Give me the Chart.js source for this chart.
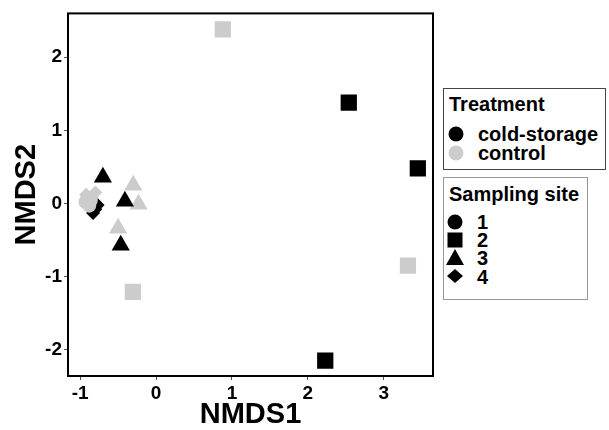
<!DOCTYPE html>
<html>
<head>
<meta charset="utf-8">
<script src="https://cdn.jsdelivr.net/npm/chart.js@4"></script>
<style>
  html,body{margin:0;padding:0;background:#fff;}
  #wrap{position:relative;width:609px;height:430px;overflow:hidden;font-family:"Liberation Sans",Arial,sans-serif;}
  canvas{position:absolute;left:0;top:0;}
  .leg{position:absolute;background:#fff;box-sizing:border-box;}
  .ttl{position:absolute;font-weight:bold;font-size:20px;color:#000;white-space:nowrap;line-height:20px;}
  .item{position:absolute;font-weight:bold;font-size:20px;color:#000;white-space:nowrap;line-height:20px;}
  svg{position:absolute;}
</style>
</head>
<body>
<div id="wrap">
  <canvas id="c" width="609" height="430"></canvas>
  <div class="leg" style="left:443px;top:88px;width:163px;height:82px;border:1px solid #444;">
    <div class="ttl" style="left:5px;top:5px;">Treatment</div>
    <svg style="left:4px;top:37px" width="16" height="16"><circle cx="8" cy="8" r="7.5" fill="#000"/></svg>
    <div class="item" style="left:34px;top:35px;">cold-storage</div>
    <svg style="left:4px;top:56px" width="16" height="16"><circle cx="8" cy="8" r="7.5" fill="#cccccc"/></svg>
    <div class="item" style="left:34px;top:54px;">control</div>
  </div>
  <div class="leg" style="left:443px;top:177px;width:145px;height:123px;border:1px solid #999;">
    <div class="ttl" style="left:5px;top:6px;">Sampling site</div>
    <svg style="left:3px;top:36px" width="16" height="16"><circle cx="8" cy="8" r="7.5" fill="#000"/></svg>
    <div class="item" style="left:33px;top:34px;">1</div>
    <svg style="left:3px;top:54px" width="16" height="16"><rect x="0.5" y="0.5" width="15" height="15" fill="#000"/></svg>
    <div class="item" style="left:33px;top:52px;">2</div>
    <svg style="left:2px;top:71px" width="18" height="16"><polygon points="9,0 18,16 0,16" fill="#000"/></svg>
    <div class="item" style="left:33px;top:70px;">3</div>
    <svg style="left:3px;top:91px" width="16" height="14"><polygon points="8,0 16,7 8,14 0,7" fill="#000"/></svg>
    <div class="item" style="left:33px;top:89px;">4</div>
  </div>
</div>
<script>
// ---- data ----
const treatments = ['cold-storage', 'control'];
const sites = ['1', '2', '3', '4'];
const xTickValues = [-1, 0, 1, 2, 3];
const yTickValues = [-2, -1, 0, 1, 2];

// cold-storage samples
const coldSite1X = [-0.90, -0.87, -0.89];
const coldSite1Y = [0.04, 0.00, 0.07];
const coldSite2X = [2.54, 3.45, 2.23];
const coldSite2Y = [1.38, 0.48, -2.15];
const coldSite3X = [-0.70, -0.41, -0.465];
const coldSite3Y = [0.36, 0.03, -0.57];
const coldSite4X = [-0.77, -0.80, -0.83];
const coldSite4Y = [-0.02, -0.08, -0.13];

// control samples
const ctrlSite1X = [-0.93, -0.86, -0.88];
const ctrlSite1Y = [0.02, 0.04, -0.03];
const ctrlSite2X = [0.88, 3.32, -0.305];
const ctrlSite2Y = [2.38, -0.85, -1.21];
const ctrlSite3X = [-0.30, -0.23, -0.50];
const ctrlSite3Y = [0.25, -0.01, -0.34];
const ctrlSite4X = [-0.92, -0.80, -0.85];
const ctrlSite4Y = [0.12, 0.15, 0.08];

// ---- styling ----
const colors = {'cold-storage': '#000000', 'control': '#cccccc'};
const shapes = {'1': 'circle', '2': 'rect', '3': 'triangle', '4': 'rectRot'};
const radii = {'1': 7, '2': 11.5, '3': 10.5, '4': 7};

function pts(xs, ys) { return xs.map((x, i) => ({x: x, y: ys[i]})); }
function ds(treat, site, xs, ys) {
  return {
    label: treat + ' / ' + site,
    data: pts(xs, ys),
    pointStyle: shapes[site],
    pointRadius: radii[site],
    pointHoverRadius: radii[site],
    backgroundColor: colors[treat],
    borderColor: colors[treat],
    borderWidth: 0
  };
}

// Chart.js paints the first dataset on top
const datasets = [
  ds(treatments[0], sites[1], coldSite2X, coldSite2Y),
  ds(treatments[1], sites[1], ctrlSite2X, ctrlSite2Y),
  ds(treatments[0], sites[2], coldSite3X, coldSite3Y),
  ds(treatments[1], sites[2], ctrlSite3X, ctrlSite3Y),
  ds(treatments[1], sites[3], ctrlSite4X, ctrlSite4Y),
  ds(treatments[1], sites[0], ctrlSite1X, ctrlSite1Y),
  ds(treatments[0], sites[3], coldSite4X, coldSite4Y),
  ds(treatments[0], sites[0], coldSite1X, coldSite1Y)
];

const frame = {
  id: 'frame',
  afterDatasetsDraw(chart) {
    const a = chart.chartArea, c = chart.ctx;
    c.save();
    c.strokeStyle = '#000';
    c.lineWidth = 2;
    c.strokeRect(a.left, a.top, a.right - a.left, a.bottom - a.top);
    c.restore();
  }
};

const tickFont = {family: '"Liberation Sans", Arial, sans-serif', weight: 'bold', size: 19};
const titleFont = {family: '"Liberation Sans", Arial, sans-serif', weight: 'bold', size: 29, lineHeight: 1.05};

new Chart(document.getElementById('c'), {
  type: 'scatter',
  data: {datasets: datasets},
  options: {
    responsive: false,
    animation: false,
    layout: {padding: {left: 0, top: 11, right: 176, bottom: 0}},
    plugins: {legend: {display: false}, tooltip: {enabled: false}},
    scales: {
      x: {
        type: 'linear', min: -1.16, max: 3.65,
        afterFit(s) { s.height = 54; },
        afterBuildTicks(s) { s.ticks = xTickValues.map(v => ({value: v})); },
        grid: {drawOnChartArea: false, drawTicks: true, tickLength: 4, tickColor: '#555', tickWidth: 1},
        border: {display: false},
        ticks: {color: '#000', font: tickFont, padding: 2, maxRotation: 0},
        title: {display: true, text: 'NMDS1', color: '#000', font: titleFont, padding: {top: 0, bottom: 0}}
      },
      y: {
        type: 'linear', min: -2.36, max: 2.60,
        afterFit(s) { s.width = 68; },
        afterBuildTicks(s) { s.ticks = yTickValues.map(v => ({value: v})); },
        grid: {drawOnChartArea: false, drawTicks: true, tickLength: 4, tickColor: '#555', tickWidth: 1},
        border: {display: false},
        ticks: {color: '#000', font: tickFont, padding: 2},
        title: {display: true, text: 'NMDS2', color: '#000', font: titleFont, padding: {top: 12, bottom: 0}}
      }
    }
  },
  plugins: [frame]
});
</script>
</body>
</html>
